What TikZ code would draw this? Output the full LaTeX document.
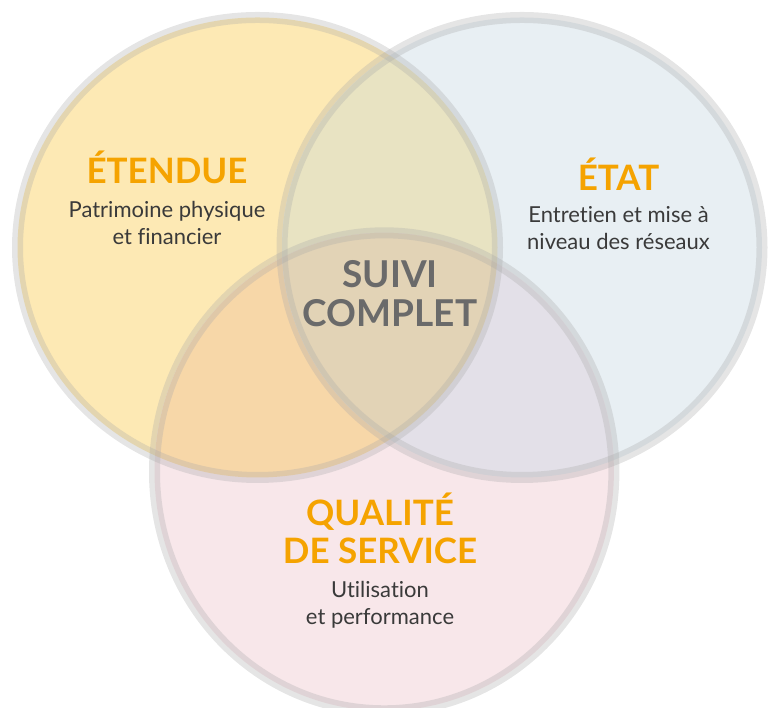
\documentclass[tikz,border=0pt]{standalone}
\usepackage{fontspec}
\setmainfont{Lato}[Ligatures=NoCommon]

\definecolor{etenduefill}{HTML}{FDE9B4}
\definecolor{etatfill}{HTML}{E8EFF3}
\definecolor{qualitefill}{HTML}{F8E7EA}
\definecolor{etendueetat}{HTML}{E8E3C2}
\definecolor{etenduequalite}{HTML}{F7D7A8}
\definecolor{etatqualite}{HTML}{E3E0E8}
\definecolor{suivifill}{HTML}{E2D3B6}
\definecolor{ringgray}{HTML}{A8A8A8}
\definecolor{titleorange}{HTML}{F5A300}
\definecolor{bodytext}{HTML}{3A3A3A}
\definecolor{centertext}{HTML}{6A6A6A}

% the three discs, in pt with the origin bottom left
\newcommand\discEtendue{(257.5,460.5) ellipse [x radius=240, y radius=230]}
\newcommand\discEtat{(522,460.5) ellipse [x radius=240, y radius=230]}
\newcommand\discQualite{(384.2,236.2) ellipse [x radius=229.7, y radius=239]}

\begin{document}
\begin{tikzpicture}[x=1pt, y=1pt,
    ring/.style={draw=ringgray, draw opacity=0.3, line width=11pt},
    title/.style={anchor=base, text=titleorange, font=\fontsize{35}{38.5}\bfseries\selectfont},
    desc/.style={anchor=base, align=center, text=bodytext, font=\fontsize{22}{27}\selectfont},
    center/.style={anchor=base, align=center, text=centertext, font=\fontsize{37}{39}\bfseries\selectfont}]
    \useasboundingbox (0,0) rectangle (768,708);

    % Plain discs
    \fill[etenduefill] \discEtendue;
    \fill[etatfill] \discEtat;
    \fill[qualitefill] \discQualite;

    % Pairwise overlaps
    \begin{scope}
        \clip \discEtendue;
        \fill[etendueetat] \discEtat;
        \fill[etenduequalite] \discQualite;
    \end{scope}
    \begin{scope}
        \clip \discEtat;
        \fill[etatqualite] \discQualite;
    \end{scope}

    % Middle part, all three
    \begin{scope}
        \clip \discEtendue;
        \clip \discEtat;
        \fill[suivifill] \discQualite;
    \end{scope}

    % Grey rings on top
    \draw[ring] \discEtendue;
    \draw[ring] \discEtat;
    \draw[ring] \discQualite;

    % Labels (base = last line)
    \node[title] (etendue) at (167,524) {ÉTENDUE};
    \node[desc] (etenduetxt) at (167,463) {Patrimoine physique\\et financier};

    \node[title] (etat) at (618.5,517) {ÉTAT};
    \node[desc] (etattxt) at (618.5,458) {Entretien et mise à\\niveau des réseaux};

    \node[center] (suivi) at (390,381) {SUIVI\\COMPLET};

    \node[title, align=center] (qualite) at (380,144) {QUALITÉ\\DE SERVICE};
    \node[desc] (qualitetxt) at (380,83) {Utilisation\\et performance};
\end{tikzpicture}
\end{document}
